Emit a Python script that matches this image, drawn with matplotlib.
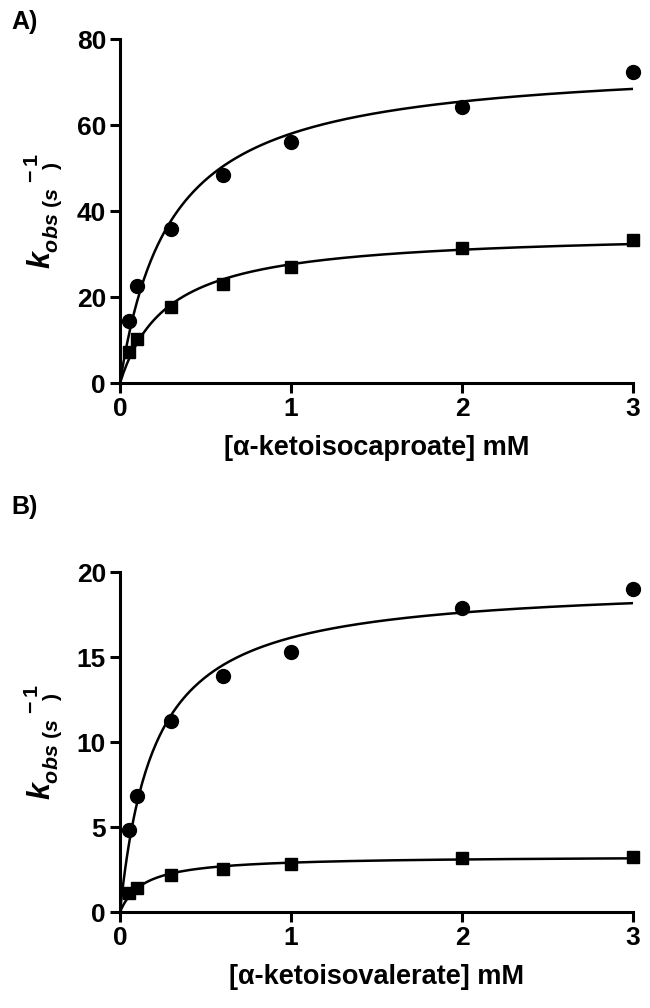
import numpy as np
import matplotlib
matplotlib.use("Agg")
import matplotlib.pyplot as plt

plt.rcParams['font.family'] = ['Liberation Sans', 'DejaVu Sans']
plt.rcParams['font.weight'] = 'bold'
plt.rcParams['mathtext.fontset'] = 'custom'
plt.rcParams['mathtext.it'] = 'Liberation Sans:italic:bold'
plt.rcParams['mathtext.rm'] = 'Liberation Sans:bold'
plt.rcParams['mathtext.bf'] = 'Liberation Sans:bold'

# data
conc = [0.05, 0.1, 0.3, 0.6, 1.0, 2.0, 3.0]

a_circle = [14.4, 22.7, 35.8, 48.4, 56.0, 64.3, 72.4]
a_square = [7.3, 10.2, 17.6, 23.0, 27.0, 31.4, 33.2]

b_circle = [4.8, 6.85, 11.25, 13.9, 15.3, 17.9, 19.0]
b_square = [1.1, 1.4, 2.15, 2.55, 2.85, 3.2, 3.25]

panels = [
    ("A)", a_circle, a_square, [0, 20, 40, 60, 80], "[α-ketoisocaproate] mM"),
    ("B)", b_circle, b_square, [0, 5, 10, 15, 20], "[α-ketoisovalerate] mM"),
]


def mm_fit(x, y):
    # Michaelis-Menten fit: grid over Km, linear least squares for Vmax
    x = np.asarray(x)
    y = np.asarray(y)
    best = None
    for km in np.linspace(0.01, 2.0, 4000):
        f = x / (km + x)
        vmax = (f * y).sum() / (f * f).sum()
        err = ((vmax * f - y) ** 2).sum()
        if best is None or err < best[0]:
            best = (err, vmax, km)
    return best[1], best[2]


fig = plt.figure(figsize=(6.5, 10.08), dpi=100)
boxes = [[0.1846, 0.620, 0.7894, 0.341], [0.1846, 0.0952, 0.7894, 0.3373]]
letter_y = [0.978, 0.497]

xs = np.linspace(0, 3, 300)
for (letter, circ, sq, yt, xl), box, ly in zip(panels, boxes, letter_y):
    ax = fig.add_axes(box)
    for data, mk, ms in [(circ, 'o', 10), (sq, 's', 9)]:
        vmax, km = mm_fit(conc, data)
        ax.plot(xs, vmax * xs / (km + xs), color='black', lw=1.8)
        ax.plot(conc, data, linestyle='none', marker=mk, ms=ms, color='black', clip_on=False)
    ax.set_xlim(0, 3)
    ax.set_ylim(yt[0], yt[-1])
    ax.set_xticks([0, 1, 2, 3])
    ax.set_yticks(yt)
    ax.spines['top'].set_visible(False)
    ax.spines['right'].set_visible(False)
    for s in ['left', 'bottom']:
        ax.spines[s].set_linewidth(2.2)
    ax.tick_params(width=2.2, length=7, labelsize=19, pad=3)
    for t in ax.get_xticklabels() + ax.get_yticklabels():
        t.set_fontweight('bold')
    ax.set_xlabel(xl, fontsize=19.5, fontweight='bold', labelpad=10)
    ax.set_ylabel(r"$k_{obs\ (s\ \ \ )}^{\ \ \ \ \ \ \ \ \ \ -1}$", fontsize=22, labelpad=9)
    fig.text(0.018, ly, letter, fontsize=18, fontweight='bold', va='center')

fig.savefig("out.png", dpi=100)
